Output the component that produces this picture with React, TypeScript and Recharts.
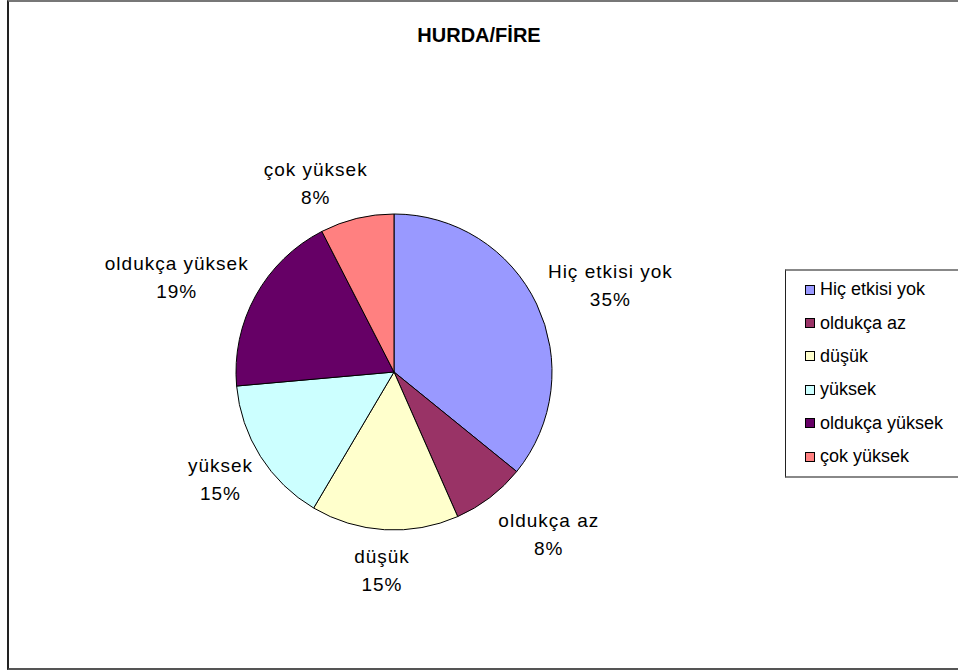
import React from 'react';
import { PieChart, Pie, Cell } from 'recharts';

// answers per category
const categories = ['Hiç etkisi yok', 'oldukça az', 'düşük', 'yüksek', 'oldukça yüksek', 'çok yüksek'];
const counts = [19, 4, 8, 8, 10, 4];
// percentages as printed on the chart
const pctLabels = ['35%', '8%', '15%', '15%', '19%', '8%'];
const colors = ['#9999FF', '#993366', '#FFFFCC', '#CCFFFF', '#660066', '#FF8080'];

// small hand nudges for the outside labels (Excel placed a couple of them off the mid angle)
const labelNudge = [[2, 0], [18, 1], [0, -5], [2, -1], [-1, 3], [-25, 8]];

const data = categories.map((name, i) => ({ name, value: counts[i], pct: pctLabels[i] }));

const FONT = '"Liberation Sans", Arial, sans-serif';
const LABEL_SIZE = 19;
const LABEL_SPACING = 1;
const LINE_GAP = 28;

let ctx: CanvasRenderingContext2D | null = null;
const textWidth = (s: string) => {
  if (!ctx && typeof document !== 'undefined') {
    ctx = document.createElement('canvas').getContext('2d');
  }
  if (!ctx) return s.length * 10;
  ctx.font = `${LABEL_SIZE}px ${FONT}`;
  return ctx.measureText(s).width + s.length * LABEL_SPACING;
};

// Excel-like outside label: anchor point past the rim, box pushed outward by its half size
const renderLabel = (props: any) => {
  const { cx, cy, midAngle, outerRadius, index } = props;
  const rad = (Math.PI / 180) * midAngle;
  const ux = Math.cos(rad);
  const uy = -Math.sin(rad);
  const name = categories[index];
  const pct = pctLabels[index];
  const w = Math.max(textWidth(name), textWidth(pct));
  const h = LINE_GAP * 2;
  const r = outerRadius + 17;
  const [nx, ny] = labelNudge[index] || [0, 0];
  const x = cx + ux * r + (ux * w) / 2 + nx;
  const y = cy + uy * r + (uy * h) / 2 + ny;
  return (
    <g>
      <text x={x} y={y - LINE_GAP / 2 + 7} textAnchor="middle" fontSize={LABEL_SIZE} fontFamily={FONT} letterSpacing={LABEL_SPACING} fill="#000">
        {name}
      </text>
      <text x={x} y={y + LINE_GAP / 2 + 7} textAnchor="middle" fontSize={LABEL_SIZE} fontFamily={FONT} letterSpacing={LABEL_SPACING} fill="#000">
        {pct}
      </text>
    </g>
  );
};

const LegendBox = () => (
  <div
    style={{
      position: 'absolute',
      left: 785,
      top: 269,
      width: 200,
      height: 209,
      borderLeft: '1.5px solid #222',
      borderTop: '2px solid #888',
      borderBottom: '2px solid #888',
      paddingTop: 2,
      boxSizing: 'border-box',
      fontFamily: FONT,
      fontSize: 18,
      color: '#000',
    }}
  >
    {categories.map((name, i) => (
      <div key={name} style={{ display: 'flex', alignItems: 'center', height: 33.4, paddingLeft: 19 }}>
        <div
          style={{
            width: 10,
            height: 10,
            background: colors[i],
            border: '1px solid #000',
            boxSizing: 'border-box',
            marginRight: 5,
          }}
        />
        <span>{name}</span>
      </div>
    ))}
  </div>
);

export default function App() {
  return (
    <div style={{ position: 'absolute', left: 0, top: 0, width: 958, height: 672, overflow: 'hidden', background: '#fff' }}>
      <div
        style={{
          position: 'absolute',
          left: 7,
          top: 0,
          width: 970,
          height: 670,
          borderLeft: '2px solid #222',
          borderTop: '2px solid #777',
          borderBottom: '2px solid #555',
          boxSizing: 'border-box',
        }}
      />
      <div
        style={{
          position: 'absolute',
          left: 0,
          top: 24,
          width: 958,
          textAlign: 'center',
          fontFamily: FONT,
          fontWeight: 'bold',
          fontSize: 20,
          lineHeight: '23px',
        }}
      >
        HURDA/FİRE
      </div>
      <div style={{ position: 'absolute', left: 0, top: 0 }}>
        <PieChart width={958} height={672} margin={{ top: 0, right: 0, bottom: 0, left: 0 }}>
          <Pie
            data={data}
            dataKey="value"
            nameKey="name"
            cx={394}
            cy={372}
            outerRadius={158}
            startAngle={90}
            endAngle={-270}
            stroke="#000"
            strokeWidth={1}
            label={renderLabel}
            labelLine={false}
            isAnimationActive={false}
          >
            {data.map((d, i) => (
              <Cell key={d.name} fill={colors[i]} />
            ))}
          </Pie>
        </PieChart>
      </div>
      <LegendBox />
    </div>
  );
}
